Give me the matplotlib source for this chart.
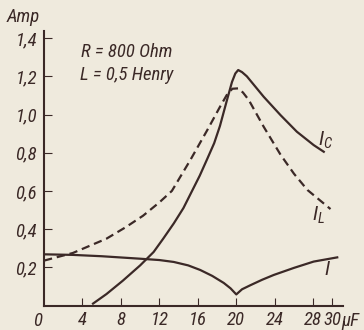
import matplotlib
matplotlib.use("Agg")
import matplotlib.pyplot as plt
from matplotlib import font_manager

# capacitance (uF) and currents (A)
c_total = [0, 3, 6, 10, 12, 13.5, 15, 16.25, 17.5, 18.7, 19.4, 20.0, 20.6, 21.5, 22.7, 23.9, 26, 28.05, 30.5]
i_total = [0.268, 0.265, 0.258, 0.245, 0.238, 0.228, 0.21, 0.186, 0.155, 0.118, 0.09, 0.058, 0.085, 0.107, 0.135, 0.16, 0.197, 0.23, 0.252]

c_cap = [5.1, 6.5, 8.2, 10.0, 11.4, 12.4, 13.5, 14.5, 15.4, 16.2, 17.0, 17.7, 18.3, 19.0, 19.55, 19.9, 20.2, 20.6, 21.1, 22.85, 24.6, 26.3, 28.05, 29.1]
i_cap = [0.01, 0.06, 0.13, 0.21, 0.28, 0.35, 0.43, 0.51, 0.60, 0.68, 0.77, 0.85, 0.94, 1.07, 1.17, 1.215, 1.233, 1.222, 1.20, 1.093, 0.997, 0.91, 0.84, 0.805]

c_ind = [0, 3, 6.5, 8.5, 10.3, 12.0, 13.3, 15.2, 17.0, 18.3, 19.1, 19.6, 20.2, 20.7, 21.3, 22.85, 24.6, 26.0, 27.4, 29.8]
i_ind = [0.235, 0.275, 0.35, 0.41, 0.47, 0.54, 0.60, 0.76, 0.92, 1.04, 1.11, 1.135, 1.137, 1.115, 1.076, 0.936, 0.79, 0.69, 0.605, 0.505]

x_ticks = [4, 8, 12, 16, 20, 24, 28, 30]
y_ticks = [0.2, 0.4, 0.6, 0.8, 1.0, 1.2, 1.4]

ink = "#3b2927"
paper = "#efeadd"

# pick a narrow face if one is installed
installed = {f.name for f in font_manager.fontManager.ttflist}
wanted = ["Liberation Sans Narrow", "DejaVu Sans Condensed", "Roboto Condensed", "Open Sans Condensed", "Liberation Sans"]
face = next((w for w in wanted if w in installed), "DejaVu Sans")
stretch = "condensed" if face == "DejaVu Sans" else "normal"

plt.rcParams["font.family"] = [face, "DejaVu Sans"]
plt.rcParams["font.style"] = "italic"
plt.rcParams["font.stretch"] = stretch
plt.rcParams["lines.scale_dashes"] = False
plt.rcParams["mathtext.fontset"] = "custom"
plt.rcParams["mathtext.it"] = face + ":italic"
plt.rcParams["mathtext.rm"] = face + ":italic"

fs = 13.5

fig = plt.figure(figsize=(3.64, 3.30), dpi=100, facecolor=paper)
ax = fig.add_axes([44 / 364, 24.5 / 330, 299 / 364, 275 / 330])
ax.set_facecolor(paper)

ax.plot(c_total, i_total, color=ink, lw=1.6)
ax.plot(c_cap, i_cap, color=ink, lw=1.6)
ax.plot(c_ind, i_ind, color=ink, lw=1.6, dashes=(6, 3.5))

ax.set_xlim(0, 31.1)
ax.set_ylim(0, 1.44)
for side in ["top", "right"]:
    ax.spines[side].set_visible(False)
for side in ["left", "bottom"]:
    ax.spines[side].set_color(ink)
    ax.spines[side].set_linewidth(1.5)

ax.set_xticks(x_ticks)
ax.set_xticklabels([str(t) for t in x_ticks])
ax.set_yticks(y_ticks)
ax.set_yticklabels([f"{t:.1f}".replace(".", ",") for t in y_ticks])
ax.tick_params(direction="in", length=6, width=0.8, color=ink, labelcolor=ink, labelsize=fs)
ax.tick_params(axis="x", pad=4)
ax.tick_params(axis="y", pad=5)

ax.text(-0.7, -0.08, "0", ha="center", va="center", fontsize=fs, color=ink, clip_on=False)
ax.text(30.9, -0.08, "μF", ha="left", va="center", fontsize=fs, color=ink, clip_on=False)
fig.text(7 / 364, 1 - 17 / 330, "Amp", ha="left", va="center", fontsize=fs, color=ink)

ax.text(3.9, 1.327, "R = 800 Ohm", ha="left", va="center", fontsize=fs, color=ink)
ax.text(3.7, 1.207, "L = 0,5 Henry", ha="left", va="center", fontsize=fs, color=ink)

ax.text(29.3, 0.866, r"$I_C$", ha="center", va="center", fontsize=15, color=ink)
ax.text(28.5, 0.47, r"$I_L$", ha="center", va="center", fontsize=15, color=ink)
ax.text(29.5, 0.186, r"$I$", ha="center", va="center", fontsize=15, color=ink)

fig.savefig("out.png", dpi=100, facecolor=paper)
